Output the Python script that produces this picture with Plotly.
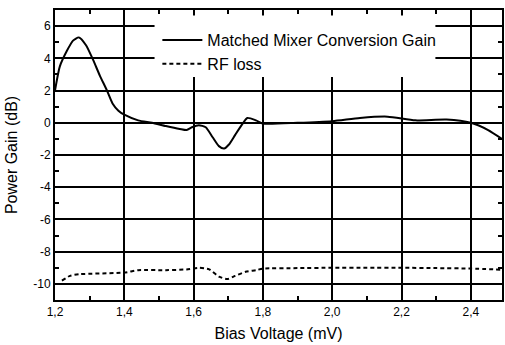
import plotly.graph_objects as go

# Matched mixer conversion gain (dB) vs bias voltage (mV)
gain_x = [1.200, 1.214, 1.234, 1.252, 1.269, 1.290, 1.310, 1.330, 1.350, 1.366,
          1.383, 1.400, 1.440, 1.480, 1.520, 1.560, 1.580, 1.595, 1.615, 1.635,
          1.655, 1.673, 1.688, 1.702, 1.720, 1.740, 1.755, 1.780, 1.800, 1.900,
          2.000, 2.080, 2.160, 2.240, 2.330, 2.400, 2.450, 2.490]
gain_y = [2.0, 3.5, 4.45, 5.1, 5.3, 4.8, 3.9, 2.9, 2.0, 1.2,
          0.75, 0.5, 0.15, 0.0, -0.2, -0.38, -0.45, -0.28, -0.15, -0.28,
          -0.9, -1.45, -1.6, -1.35, -0.75, -0.1, 0.3, 0.15, -0.05, 0.0,
          0.1, 0.3, 0.38, 0.15, 0.2, 0.0, -0.45, -1.0]

# RF loss (dB)
rf_x = [1.220, 1.243, 1.270, 1.400, 1.440, 1.520, 1.580, 1.615, 1.645, 1.673,
        1.697, 1.720, 1.750, 1.780, 1.800, 1.900, 2.000, 2.100, 2.200, 2.300,
        2.400, 2.490]
rf_y = [-9.8, -9.5, -9.4, -9.3, -9.15, -9.15, -9.1, -9.0, -9.1, -9.55,
        -9.7, -9.5, -9.25, -9.15, -9.05, -9.02, -9.0, -9.0, -9.0, -9.02,
        -9.05, -9.12]

x_tick_vals = [1.2, 1.4, 1.6, 1.8, 2.0, 2.2, 2.4]
x_tick_text = ["1,2", "1,4", "1,6", "1,8", "2,0", "2,2", "2,4"]
y_tick_vals = [-10, -8, -6, -4, -2, 0, 2, 4, 6]
y_tick_text = ["-10", "-8", "-6", "-4", "-2", "0", "2", "4", "6"]

series_names = ["Matched Mixer Conversion Gain", "RF loss"]

fig = go.Figure()
fig.add_trace(go.Scatter(x=gain_x, y=gain_y, mode="lines", name=series_names[0],
                         line=dict(color="black", width=2, shape="spline", smoothing=0.6)))
fig.add_trace(go.Scatter(x=rf_x, y=rf_y, mode="lines", name=series_names[1],
                         line=dict(color="black", width=2, dash="4px,3px", shape="spline", smoothing=0.6)))

axis_common = dict(
    showline=True, linecolor="black", linewidth=2, mirror="ticks",
    showgrid=True, gridcolor="black", gridwidth=1.5,
    zeroline=False, ticks="inside", ticklen=5, tickcolor="black", tickwidth=1.5,
    tickfont=dict(family="Liberation Sans, Arial, sans-serif", size=12, color="black"),
)

# white backing box behind the legend (hides grid lines there)
fig.add_shape(type="rect", xref="paper", yref="paper",
              x0=0.2227, x1=0.851, y0=0.769, y1=0.981,
              fillcolor="white", line=dict(width=0), layer="above")

fig.update_layout(
    width=505, height=345,
    margin=dict(l=55, r=1, t=10, b=45),
    paper_bgcolor="white", plot_bgcolor="white",
    font=dict(family="Liberation Sans, Arial, sans-serif", color="black"),
    xaxis=dict(range=[1.2, 2.49], tickvals=x_tick_vals, ticktext=x_tick_text,
               title=dict(text="Bias Voltage (mV)", font=dict(size=16), standoff=9),
               minor=dict(ticks="inside", ticklen=4, tickcolor="black", dtick=0.1, tick0=1.2, showgrid=False),
               **axis_common),
    yaxis=dict(range=[-11, 7], tickvals=y_tick_vals, ticktext=y_tick_text,
               title=dict(text="Power Gain (dB)", font=dict(size=16), standoff=12),
               minor=dict(ticks="inside", ticklen=4, tickcolor="black", dtick=1, tick0=0, showgrid=False),
               **axis_common),
    legend=dict(x=0.229, y=0.955, xanchor="left", yanchor="top", bgcolor="rgba(0,0,0,0)",
                font=dict(size=16, color="black"), borderwidth=0,
                tracegroupgap=0, itemwidth=40),
    showlegend=True,
)

fig.write_html("out.html")
